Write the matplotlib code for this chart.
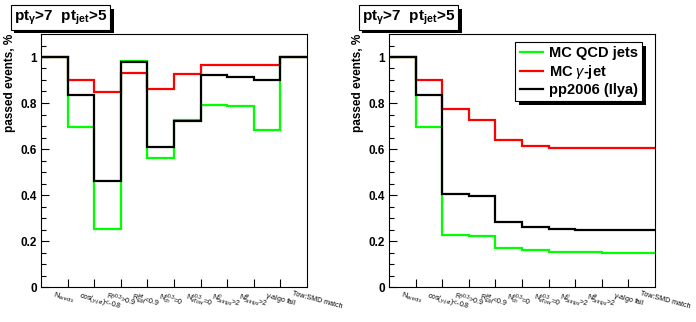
import matplotlib
matplotlib.use('Agg')
import matplotlib.pyplot as plt
import matplotlib.patheffects as pe
import numpy as np

plt.rcParams['font.family'] = ['Liberation Sans', 'DejaVu Sans']
plt.rcParams['mathtext.fontset'] = 'custom'
plt.rcParams['mathtext.rm'] = 'Liberation Sans'
plt.rcParams['mathtext.it'] = 'Liberation Sans:italic'
plt.rcParams['mathtext.bf'] = 'Liberation Sans:bold'

# cut names (x axis bins)
cuts = [r'N$_{events}$', r'cos($_{\gamma}$,$_{jet}$)<-0.8', r'R$^{\gamma 0.3}$>0.9',
        r'R$^{jet}_{EM}$<0.9', r'N$^{\gamma 0.3}_{ch}$=0', r'N$^{\gamma 0.3}_{eTow}$=0',
        r'N$^{\eta}_{5strips}$>2', r'N$^{\varphi}_{5strips}$>2', r'$\gamma$-algo fail',
        'Tow:SMD match']

# passed fraction for each cut alone
qcd_single = [1.0, 0.694, 0.254, 0.981, 0.559, 0.728, 0.790, 0.786, 0.684, 1.0]
gamma_single = [1.0, 0.901, 0.846, 0.929, 0.862, 0.925, 0.964, 0.964, 0.964, 1.0]
data_single = [1.0, 0.836, 0.462, 0.977, 0.607, 0.720, 0.920, 0.914, 0.899, 0.999]

# cumulative passed fraction
qcd_cum = [1.0, 0.694, 0.226, 0.222, 0.168, 0.159, 0.153, 0.153, 0.149, 0.149]
gamma_cum = [1.0, 0.901, 0.775, 0.725, 0.638, 0.614, 0.606, 0.606, 0.606, 0.606]
data_cum = [1.0, 0.836, 0.406, 0.394, 0.281, 0.259, 0.254, 0.249, 0.249, 0.249]

series_names = ['MC QCD jets', r'MC $\gamma$-jet', 'pp2006 (Ilya)']
colors = ['#00ff00', '#ff0000', 'black']

fig = plt.figure(figsize=(6.96, 3.22), dpi=100)
ax1 = fig.add_axes([41 / 696, 35 / 322, 266 / 696, 253 / 322])
ax2 = fig.add_axes([389 / 696, 35 / 322, 266 / 696, 253 / 322])

edges = np.arange(len(cuts) + 1)
shadow = [pe.SimplePatchShadow(offset=(2.5, -2.5), shadow_rgbFace='black', alpha=1), pe.Normal()]


def setup(ax, data):
    for vals, c, name in zip(data, colors, series_names):
        ax.stairs(vals, edges, color=c, lw=1.6, baseline=None, label=name)
    ax.set_xlim(0, len(cuts))
    ax.set_ylim(0, 1.1)
    ax.set_xticks(edges[1:-1])
    ax.set_xticklabels([])
    ax.set_yticks([0, 0.2, 0.4, 0.6, 0.8, 1.0])
    ax.set_yticklabels(['0', '0.2', '0.4', '0.6', '0.8', '1'], fontweight='bold', fontsize=8.5)
    ax.set_yticks(np.arange(0, 1.1, 0.05), minor=True)
    ax.tick_params(axis='both', which='major', direction='in', length=6, width=0.8, pad=3)
    ax.tick_params(axis='y', which='minor', direction='in', length=3.5, width=0.8)
    ax.tick_params(axis='x', which='minor', bottom=False)
    for s in ax.spines.values():
        s.set_linewidth(0.8)
    ax.set_ylabel('passed events, %', fontweight='bold', fontsize=8.5, loc='top', labelpad=3)
    for i, lab in enumerate(cuts):
        ax.text(i + 0.5, -0.015, lab, rotation=-15, rotation_mode='anchor', ha='left', va='top',
                fontsize=5, transform=ax.transData, clip_on=False)
    # title box in the corner
    x0 = ax.get_position().x0
    t = fig.text(x0 - 27 / 696, 1 - 17.5 / 322, r'pt$_{\mathbf{\gamma}}$>7  pt$_{\mathbf{jet}}$>5',
                 fontweight='bold', fontsize=11, va='center', ha='left',
                 bbox=dict(boxstyle='square,pad=0.2', fc='white', ec='black', lw=0.8))
    t.get_bbox_patch().set_path_effects(shadow)


setup(ax1, [qcd_single, gamma_single, data_single])
setup(ax2, [qcd_cum, gamma_cum, data_cum])

leg = ax2.legend(loc='upper right', bbox_to_anchor=(0.952, 0.968), fancybox=False,
                 edgecolor='black', framealpha=1, prop={'weight': 'bold', 'size': 10.5},
                 handlelength=1.6, borderpad=0.3, labelspacing=0.15, handletextpad=0.4,
                 borderaxespad=0)
leg.get_frame().set_linewidth(0.8)
leg.get_frame().set_path_effects(shadow)

fig.savefig('out.png', dpi=100)
